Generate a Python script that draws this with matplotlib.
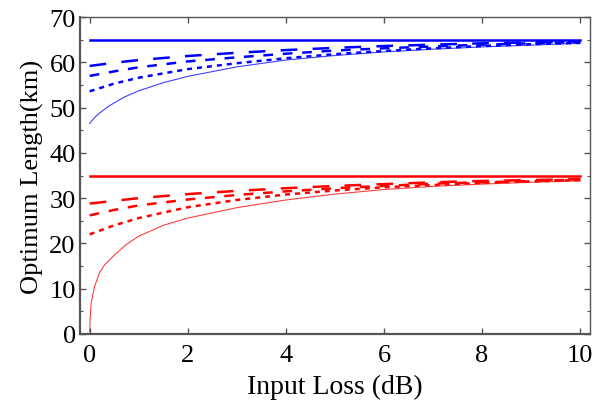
import matplotlib
matplotlib.use('Agg')
import matplotlib.pyplot as plt
from matplotlib.ticker import MultipleLocator

plt.rcParams['font.family'] = ['Liberation Serif', 'DejaVu Serif']
plt.rcParams['lines.scale_dashes'] = False

# Input loss (dB) sample points
loss = [0, 0.5, 1, 2, 3, 4, 5, 6, 7, 8, 9, 10]
loss_blue_thin = [0, 0.1, 0.2, 0.4, 0.7, 1, 1.5, 2, 3, 4, 5, 6, 7, 8, 9, 10]
loss_red_thin = [0, 0.01, 0.03, 0.1, 0.2, 0.3, 0.5, 0.75, 1, 1.5, 2, 3, 4, 5, 6, 7, 8, 9, 10]
loss_flat = [0, 10]

# blue family (upper)
blue_flat = [65.0, 65.0]
blue_dash_long = [59.2, 59.9, 60.5, 61.4, 62.1, 62.7, 63.2, 63.6, 63.9, 64.2, 64.4, 64.6]
blue_dash_mid = [57.0, 58.0, 58.9, 60.2, 61.1, 61.9, 62.6, 63.1, 63.5, 63.9, 64.2, 64.5]
blue_dash_short = [53.6, 55.3, 56.6, 58.5, 59.8, 60.9, 61.8, 62.5, 63.1, 63.6, 64.0, 64.3]
blue_thin = [46.5, 47.8, 48.8, 50.4, 52.3, 53.7, 55.5, 56.9, 59.0, 60.5, 61.5, 62.3,
             62.9, 63.4, 63.8, 64.2]

# red family (lower)
red_flat = [34.8, 34.8]
red_dash_long = [28.8, 29.4, 30.0, 30.9, 31.6, 32.2, 32.7, 33.1, 33.5, 33.8, 34.0, 34.2]
red_dash_mid = [26.2, 27.4, 28.4, 29.7, 30.7, 31.5, 32.2, 32.7, 33.2, 33.5, 33.8, 34.1]
red_dash_short = [22.0, 24.0, 25.6, 28.0, 29.6, 30.8, 31.7, 32.4, 32.9, 33.4, 33.7, 34.0]
red_thin = [0.5, 3.5, 6.8, 10.5, 13.5, 15.2, 17.4, 19.8, 21.6, 24.0, 25.6, 27.9, 29.6,
            30.9, 31.9, 32.6, 33.1, 33.5, 33.8]

fig = plt.figure(figsize=(5.96, 4.10), dpi=100)
ax = fig.add_axes([0.134, 0.183, 0.856, 0.773])

for col, flat, d1, d2, d3, xt, thin in [
        ('#0000ff', blue_flat, blue_dash_long, blue_dash_mid, blue_dash_short, loss_blue_thin, blue_thin),
        ('#ff0000', red_flat, red_dash_long, red_dash_mid, red_dash_short, loss_red_thin, red_thin)]:
    ax.plot(loss_flat, flat, color=col, lw=1.8)
    ax.plot(loss, d1, color=col, lw=1.8, dashes=(12, 11))
    ax.plot(loss, d2, color=col, lw=1.8, dashes=(7, 7))
    ax.plot(loss, d3, color=col, lw=1.8, dashes=(3.6, 3.6))
    ax.plot(xt, thin, color=col, lw=0.8, alpha=0.75)

ax.set_xlim(-0.2, 10.2)
ax.set_ylim(0, 70)
ax.xaxis.set_major_locator(MultipleLocator(2))
ax.yaxis.set_major_locator(MultipleLocator(10))
ax.yaxis.set_minor_locator(MultipleLocator(5))

frame = '#555555'
for side in ax.spines:
    ax.spines[side].set_color(frame)
    ax.spines[side].set_linewidth(1.0)
ax.spines['left'].set_linewidth(1.6)
ax.spines['bottom'].set_linewidth(1.6)

ax.tick_params(which='both', direction='in', top=True, right=True, color=frame,
               labelsize=19)
ax.tick_params(axis='x', pad=7)
ax.tick_params(axis='y', pad=3)
ax.tick_params(which='major', length=4, width=1)
ax.tick_params(which='minor', length=2, width=0.8)

ax.set_xlabel('Input Loss (dB)', fontsize=20, labelpad=6)
ax.set_ylabel('Optimum Length(km)', fontsize=19, labelpad=4)

fig.savefig('out.png', dpi=100)
